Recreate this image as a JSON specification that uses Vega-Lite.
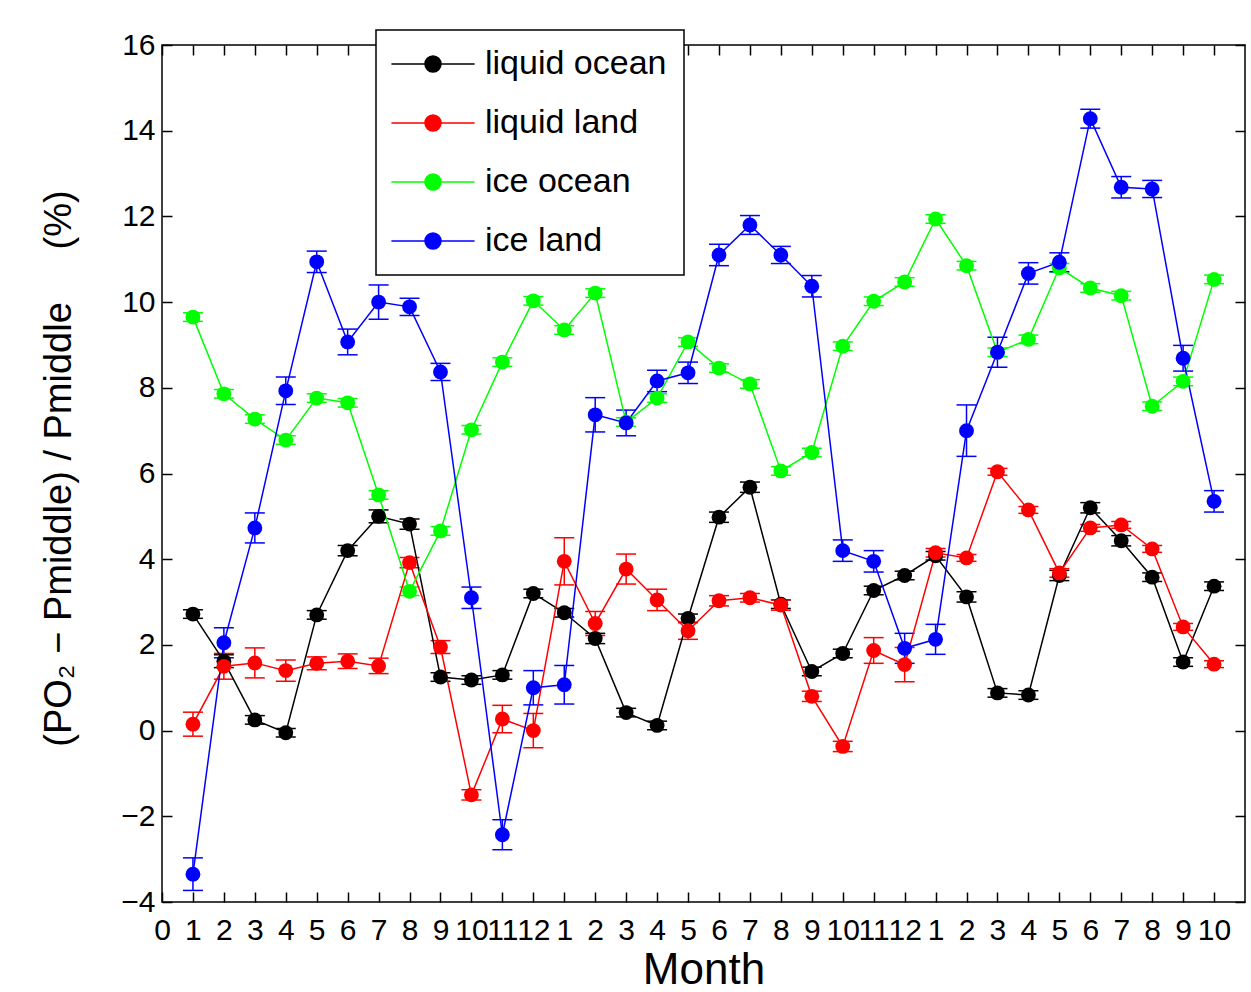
{
  "$schema": "https://vega.github.io/schema/vega-lite/v6.json",
  "width": 1083,
  "height": 857,
  "autosize": {"type": "none"},
  "padding": {"left": 162, "top": 45, "right": 6, "bottom": 90},
  "background": "white",
  "config": {
    "font": "Liberation Sans",
    "view": {"stroke": "black", "strokeWidth": 1.5},
    "axis": {"grid": false, "labelColor": "black", "titleColor": "black", "tickColor": "black", "domain": false, "titleFontWeight": "normal"},
    "legend": {"strokeWidth": 1.5}
  },
  "data": {"values": [
    {"m":1,"s":"liquid ocean","v":2.72,"lo":2.62,"hi":2.82},
    {"m":2,"s":"liquid ocean","v":1.62,"lo":1.47,"hi":1.77},
    {"m":3,"s":"liquid ocean","v":0.25,"lo":0.15,"hi":0.35},
    {"m":4,"s":"liquid ocean","v":-0.05,"lo":-0.15,"hi":0.05},
    {"m":5,"s":"liquid ocean","v":2.7,"lo":2.6,"hi":2.8},
    {"m":6,"s":"liquid ocean","v":4.2,"lo":4.08,"hi":4.32},
    {"m":7,"s":"liquid ocean","v":5.0,"lo":4.85,"hi":5.15},
    {"m":8,"s":"liquid ocean","v":4.82,"lo":4.7,"hi":4.94},
    {"m":9,"s":"liquid ocean","v":1.25,"lo":1.15,"hi":1.35},
    {"m":10,"s":"liquid ocean","v":1.18,"lo":1.08,"hi":1.28},
    {"m":11,"s":"liquid ocean","v":1.3,"lo":1.2,"hi":1.4},
    {"m":12,"s":"liquid ocean","v":3.2,"lo":3.1,"hi":3.3},
    {"m":13,"s":"liquid ocean","v":2.75,"lo":2.65,"hi":2.85},
    {"m":14,"s":"liquid ocean","v":2.15,"lo":2.03,"hi":2.27},
    {"m":15,"s":"liquid ocean","v":0.42,"lo":0.32,"hi":0.52},
    {"m":16,"s":"liquid ocean","v":0.12,"lo":0.02,"hi":0.22},
    {"m":17,"s":"liquid ocean","v":2.62,"lo":2.52,"hi":2.72},
    {"m":18,"s":"liquid ocean","v":4.98,"lo":4.86,"hi":5.1},
    {"m":19,"s":"liquid ocean","v":5.68,"lo":5.56,"hi":5.8},
    {"m":20,"s":"liquid ocean","v":2.95,"lo":2.85,"hi":3.05},
    {"m":21,"s":"liquid ocean","v":1.38,"lo":1.28,"hi":1.48},
    {"m":22,"s":"liquid ocean","v":1.8,"lo":1.7,"hi":1.9},
    {"m":23,"s":"liquid ocean","v":3.27,"lo":3.17,"hi":3.37},
    {"m":24,"s":"liquid ocean","v":3.62,"lo":3.52,"hi":3.72},
    {"m":25,"s":"liquid ocean","v":4.08,"lo":3.98,"hi":4.18},
    {"m":26,"s":"liquid ocean","v":3.12,"lo":3.0,"hi":3.24},
    {"m":27,"s":"liquid ocean","v":0.88,"lo":0.78,"hi":0.98},
    {"m":28,"s":"liquid ocean","v":0.83,"lo":0.73,"hi":0.93},
    {"m":29,"s":"liquid ocean","v":3.62,"lo":3.5,"hi":3.74},
    {"m":30,"s":"liquid ocean","v":5.2,"lo":5.08,"hi":5.32},
    {"m":31,"s":"liquid ocean","v":4.43,"lo":4.31,"hi":4.55},
    {"m":32,"s":"liquid ocean","v":3.58,"lo":3.48,"hi":3.68},
    {"m":33,"s":"liquid ocean","v":1.6,"lo":1.5,"hi":1.7},
    {"m":34,"s":"liquid ocean","v":3.37,"lo":3.27,"hi":3.47},
    {"m":1,"s":"liquid land","v":0.15,"lo":-0.13,"hi":0.43},
    {"m":2,"s":"liquid land","v":1.5,"lo":1.2,"hi":1.8},
    {"m":3,"s":"liquid land","v":1.58,"lo":1.23,"hi":1.93},
    {"m":4,"s":"liquid land","v":1.4,"lo":1.15,"hi":1.65},
    {"m":5,"s":"liquid land","v":1.57,"lo":1.42,"hi":1.72},
    {"m":6,"s":"liquid land","v":1.62,"lo":1.45,"hi":1.79},
    {"m":7,"s":"liquid land","v":1.51,"lo":1.33,"hi":1.69},
    {"m":8,"s":"liquid land","v":3.92,"lo":3.8,"hi":4.04},
    {"m":9,"s":"liquid land","v":1.95,"lo":1.8,"hi":2.1},
    {"m":10,"s":"liquid land","v":-1.5,"lo":-1.62,"hi":-1.38},
    {"m":11,"s":"liquid land","v":0.27,"lo":-0.05,"hi":0.59},
    {"m":12,"s":"liquid land","v":0.0,"lo":-0.4,"hi":0.4},
    {"m":13,"s":"liquid land","v":3.95,"lo":3.4,"hi":4.5},
    {"m":14,"s":"liquid land","v":2.5,"lo":2.22,"hi":2.78},
    {"m":15,"s":"liquid land","v":3.77,"lo":3.42,"hi":4.12},
    {"m":16,"s":"liquid land","v":3.05,"lo":2.8,"hi":3.3},
    {"m":17,"s":"liquid land","v":2.33,"lo":2.13,"hi":2.53},
    {"m":18,"s":"liquid land","v":3.03,"lo":2.91,"hi":3.15},
    {"m":19,"s":"liquid land","v":3.1,"lo":3.0,"hi":3.2},
    {"m":20,"s":"liquid land","v":2.93,"lo":2.81,"hi":3.05},
    {"m":21,"s":"liquid land","v":0.8,"lo":0.68,"hi":0.92},
    {"m":22,"s":"liquid land","v":-0.37,"lo":-0.49,"hi":-0.25},
    {"m":23,"s":"liquid land","v":1.87,"lo":1.57,"hi":2.17},
    {"m":24,"s":"liquid land","v":1.54,"lo":1.14,"hi":1.94},
    {"m":25,"s":"liquid land","v":4.15,"lo":4.05,"hi":4.25},
    {"m":26,"s":"liquid land","v":4.03,"lo":3.95,"hi":4.11},
    {"m":27,"s":"liquid land","v":6.04,"lo":5.96,"hi":6.12},
    {"m":28,"s":"liquid land","v":5.15,"lo":5.07,"hi":5.23},
    {"m":29,"s":"liquid land","v":3.68,"lo":3.58,"hi":3.78},
    {"m":30,"s":"liquid land","v":4.73,"lo":4.65,"hi":4.81},
    {"m":31,"s":"liquid land","v":4.8,"lo":4.72,"hi":4.88},
    {"m":32,"s":"liquid land","v":4.24,"lo":4.16,"hi":4.32},
    {"m":33,"s":"liquid land","v":2.42,"lo":2.34,"hi":2.5},
    {"m":34,"s":"liquid land","v":1.55,"lo":1.47,"hi":1.63},
    {"m":1,"s":"ice ocean","v":9.65,"lo":9.55,"hi":9.75},
    {"m":2,"s":"ice ocean","v":7.86,"lo":7.76,"hi":7.96},
    {"m":3,"s":"ice ocean","v":7.27,"lo":7.17,"hi":7.37},
    {"m":4,"s":"ice ocean","v":6.78,"lo":6.68,"hi":6.88},
    {"m":5,"s":"ice ocean","v":7.76,"lo":7.66,"hi":7.86},
    {"m":6,"s":"ice ocean","v":7.65,"lo":7.55,"hi":7.75},
    {"m":7,"s":"ice ocean","v":5.5,"lo":5.4,"hi":5.6},
    {"m":8,"s":"ice ocean","v":3.25,"lo":3.15,"hi":3.35},
    {"m":9,"s":"ice ocean","v":4.66,"lo":4.56,"hi":4.76},
    {"m":10,"s":"ice ocean","v":7.02,"lo":6.92,"hi":7.12},
    {"m":11,"s":"ice ocean","v":8.6,"lo":8.5,"hi":8.7},
    {"m":12,"s":"ice ocean","v":10.03,"lo":9.93,"hi":10.13},
    {"m":13,"s":"ice ocean","v":9.35,"lo":9.25,"hi":9.45},
    {"m":14,"s":"ice ocean","v":10.21,"lo":10.11,"hi":10.31},
    {"m":15,"s":"ice ocean","v":7.2,"lo":7.1,"hi":7.3},
    {"m":16,"s":"ice ocean","v":7.76,"lo":7.66,"hi":7.86},
    {"m":17,"s":"ice ocean","v":9.07,"lo":8.97,"hi":9.17},
    {"m":18,"s":"ice ocean","v":8.46,"lo":8.36,"hi":8.56},
    {"m":19,"s":"ice ocean","v":8.09,"lo":7.99,"hi":8.19},
    {"m":20,"s":"ice ocean","v":6.06,"lo":5.96,"hi":6.16},
    {"m":21,"s":"ice ocean","v":6.49,"lo":6.39,"hi":6.59},
    {"m":22,"s":"ice ocean","v":8.97,"lo":8.87,"hi":9.07},
    {"m":23,"s":"ice ocean","v":10.02,"lo":9.92,"hi":10.12},
    {"m":24,"s":"ice ocean","v":10.47,"lo":10.37,"hi":10.57},
    {"m":25,"s":"ice ocean","v":11.94,"lo":11.84,"hi":12.04},
    {"m":26,"s":"ice ocean","v":10.85,"lo":10.75,"hi":10.95},
    {"m":27,"s":"ice ocean","v":8.83,"lo":8.73,"hi":8.93},
    {"m":28,"s":"ice ocean","v":9.13,"lo":9.03,"hi":9.23},
    {"m":29,"s":"ice ocean","v":10.8,"lo":10.7,"hi":10.9},
    {"m":30,"s":"ice ocean","v":10.33,"lo":10.23,"hi":10.43},
    {"m":31,"s":"ice ocean","v":10.15,"lo":10.05,"hi":10.25},
    {"m":32,"s":"ice ocean","v":7.57,"lo":7.47,"hi":7.67},
    {"m":33,"s":"ice ocean","v":8.15,"lo":8.05,"hi":8.25},
    {"m":34,"s":"ice ocean","v":10.53,"lo":10.43,"hi":10.63},
    {"m":1,"s":"ice land","v":-3.35,"lo":-3.73,"hi":-2.97},
    {"m":2,"s":"ice land","v":2.05,"lo":1.7,"hi":2.4},
    {"m":3,"s":"ice land","v":4.73,"lo":4.38,"hi":5.08},
    {"m":4,"s":"ice land","v":7.93,"lo":7.61,"hi":8.25},
    {"m":5,"s":"ice land","v":10.94,"lo":10.69,"hi":11.19},
    {"m":6,"s":"ice land","v":9.07,"lo":8.77,"hi":9.37},
    {"m":7,"s":"ice land","v":10.0,"lo":9.6,"hi":10.4},
    {"m":8,"s":"ice land","v":9.89,"lo":9.69,"hi":10.09},
    {"m":9,"s":"ice land","v":8.37,"lo":8.17,"hi":8.57},
    {"m":10,"s":"ice land","v":3.1,"lo":2.85,"hi":3.35},
    {"m":11,"s":"ice land","v":-2.43,"lo":-2.78,"hi":-2.08},
    {"m":12,"s":"ice land","v":1.0,"lo":0.6,"hi":1.4},
    {"m":13,"s":"ice land","v":1.07,"lo":0.62,"hi":1.52},
    {"m":14,"s":"ice land","v":7.37,"lo":6.97,"hi":7.77},
    {"m":15,"s":"ice land","v":7.18,"lo":6.88,"hi":7.48},
    {"m":16,"s":"ice land","v":8.16,"lo":7.91,"hi":8.41},
    {"m":17,"s":"ice land","v":8.35,"lo":8.1,"hi":8.6},
    {"m":18,"s":"ice land","v":11.1,"lo":10.85,"hi":11.35},
    {"m":19,"s":"ice land","v":11.8,"lo":11.58,"hi":12.02},
    {"m":20,"s":"ice land","v":11.1,"lo":10.9,"hi":11.3},
    {"m":21,"s":"ice land","v":10.37,"lo":10.12,"hi":10.62},
    {"m":22,"s":"ice land","v":4.2,"lo":3.95,"hi":4.45},
    {"m":23,"s":"ice land","v":3.95,"lo":3.7,"hi":4.2},
    {"m":24,"s":"ice land","v":1.92,"lo":1.57,"hi":2.27},
    {"m":25,"s":"ice land","v":2.13,"lo":1.78,"hi":2.48},
    {"m":26,"s":"ice land","v":7.0,"lo":6.4,"hi":7.6},
    {"m":27,"s":"ice land","v":8.83,"lo":8.48,"hi":9.18},
    {"m":28,"s":"ice land","v":10.67,"lo":10.42,"hi":10.92},
    {"m":29,"s":"ice land","v":10.93,"lo":10.71,"hi":11.15},
    {"m":30,"s":"ice land","v":14.28,"lo":14.06,"hi":14.5},
    {"m":31,"s":"ice land","v":12.68,"lo":12.43,"hi":12.93},
    {"m":32,"s":"ice land","v":12.64,"lo":12.44,"hi":12.84},
    {"m":33,"s":"ice land","v":8.69,"lo":8.39,"hi":8.99},
    {"m":34,"s":"ice land","v":5.35,"lo":5.1,"hi":5.6}
  ]},
  "encoding": {
    "x": {"field": "m", "type": "quantitative", "scale": {"domain": [0, 35], "nice": false, "zero": false}, "axis": null},
    "color": {
      "field": "s", "type": "nominal",
      "scale": {"domain": ["liquid ocean", "liquid land", "ice ocean", "ice land"], "range": ["#000000", "#ff0000", "#00ff00", "#0000ff"]},
      "legend": {
        "title": null,
        "orient": "none",
        "legendX": 214,
        "legendY": -15,
        "fillColor": "white",
        "strokeColor": "black",
        "padding": 17,
        "labelFont": "Liberation Sans",
        "labelFontSize": 34,
        "labelColor": "black",
        "labelLimit": 0,
        "labelOffset": 35,
        "symbolOffset": 23,
        "rowPadding": 25,
        "symbolType": "M-5.2,0H5.2M-1,0A1,1 0 1,0 1,0A1,1 0 1,0 -1,0Z",
        "symbolSize": 256,
        "symbolStrokeWidth": 1.5,
        "encode": {"symbols": {"update": {"fill": {"scale": "color", "field": "value"}, "stroke": {"scale": "color", "field": "value"}, "opacity": {"value": 1}}}}
      }
    }
  },
  "layer": [
    {
      "mark": {"type": "rule", "strokeWidth": 1.5},
      "encoding": {
        "y": {"field": "lo", "type": "quantitative", "scale": {"domain": [-4, 16], "nice": false, "zero": false}, "axis": null},
        "y2": {"field": "hi"}
      }
    },
    {
      "mark": {"type": "tick", "orient": "horizontal", "size": 20, "thickness": 1.5, "opacity": 1},
      "encoding": {
        "y": {"field": "lo", "type": "quantitative", "scale": {"domain": [-4, 16], "nice": false, "zero": false}, "axis": null}
      }
    },
    {
      "mark": {"type": "tick", "orient": "horizontal", "size": 20, "thickness": 1.5, "opacity": 1},
      "encoding": {
        "y": {"field": "hi", "type": "quantitative", "scale": {"domain": [-4, 16], "nice": false, "zero": false}, "axis": null}
      }
    },
    {
      "mark": {"type": "line", "strokeWidth": 1.5, "point": {"filled": true, "size": 220, "opacity": 1, "strokeWidth": 0}},
      "encoding": {
        "x": {
          "field": "m", "type": "quantitative",
          "scale": {"domain": [0, 35], "nice": false, "zero": false},
          "axis": {
            "orient": "bottom",
            "values": [0,1,2,3,4,5,6,7,8,9,10,11,12,13,14,15,16,17,18,19,20,21,22,23,24,25,26,27,28,29,30,31,32,33,34],
            "labelExpr": "datum.value == 0 ? '0' : '' + ((datum.value - 1) % 12 + 1)",
            "labelOverlap": false,
            "labelFlush": false,
            "labelBound": false,
            "labelFontSize": 30,
            "labelBaseline": "top",
            "labelPadding": 23,
            "tickSize": -10,
            "tickWidth": 1.5,
            "title": "Month",
            "titleFontSize": 44,
            "titleBaseline": "alphabetic",
            "titleY": 81
          }
        },
        "y": {
          "field": "v", "type": "quantitative",
          "scale": {"domain": [-4, 16], "nice": false, "zero": false},
          "axis": {
            "orient": "left",
            "values": [-4,-2,0,2,4,6,8,10,12,14,16],
            "labelFontSize": 30,
            "labelPadding": 17,
            "labelFlush": false,
            "labelOverlap": false,
            "tickSize": -10,
            "tickWidth": 1.5,
            "title": "(PO\u2082 \u2212 Pmiddle) / Pmiddle\u00a0\u00a0\u00a0\u00a0\u00a0(%)",
            "titleFontSize": 38,
            "titleAngle": 270,
            "titleAlign": "center",
            "titleBaseline": "alphabetic",
            "titleX": -92,
            "titleY": 423
          }
        }
      }
    },
    {
      "mark": {"type": "point", "opacity": 0},
      "encoding": {
        "color": {"value": "transparent"},
        "x": {
          "field": "m", "type": "quantitative",
          "scale": {"domain": [0, 35], "nice": false, "zero": false},
          "axis": {"orient": "top", "values": [0,1,2,3,4,5,6,7,8,9,10,11,12,13,14,15,16,17,18,19,20,21,22,23,24,25,26,27,28,29,30,31,32,33,34], "labels": false, "tickSize": -10, "tickWidth": 1.5, "title": null}
        },
        "y": {
          "field": "v", "type": "quantitative",
          "scale": {"domain": [-4, 16], "nice": false, "zero": false},
          "axis": {"orient": "right", "values": [-4,-2,0,2,4,6,8,10,12,14,16], "labels": false, "tickSize": -10, "tickWidth": 1.5, "title": null}
        }
      }
    }
  ],
  "resolve": {"axis": {"x": "independent", "y": "independent"}}
}
